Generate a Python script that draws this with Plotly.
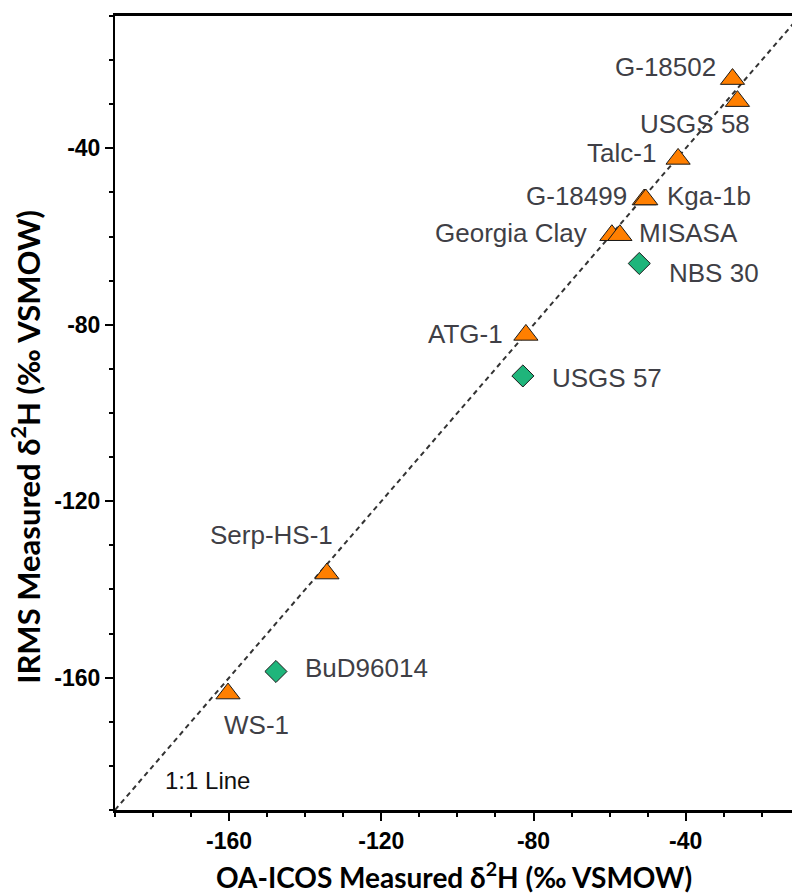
import plotly.graph_objects as go

# ---- data ----
ref_names = ["G-18502", "USGS 58", "Talc-1", "G-18499", "Kga-1b", "Georgia Clay",
             "MISASA", "ATG-1", "Serp-HS-1", "WS-1"]
ref_x = [-27.7, -26.4, -42.0, -50.9, -50.5, -59.4, -57.3, -82.0, -134.3, -160.3]
ref_y = [-24.3, -29.3, -42.4, -51.6, -51.6, -59.7, -59.7, -82.3, -136.4, -163.6]

oth_names = ["NBS 30", "USGS 57", "BuD96014"]
oth_x = [-52.2, -82.8, -147.7]
oth_y = [-66.1, -91.6, -158.6]

line_x = [-190, -10]
line_y = [-190, -10]

tick_vals = [-160, -120, -80, -40]
tick_text = ["-160", "-120", "-80", "-40"]

# label offsets (pixels) relative to each marker: style only
ref_offsets = [(-67, 12), (-42, -23), (-57, 6), (-68, 4), (63, 4), (-101, 2),
               (69, 2), (-60, 1), (-55, 39), (28, -31)]
oth_offsets = [(75, -10), (84, -2), (91, 3)]

ORANGE = "#FF7F00"
GREEN = "#1FB57B"
LABEL_COLOR = "#3f3f46"
LABEL_FONT = dict(family="Liberation Sans, Arial", size=26, color=LABEL_COLOR)

fig = go.Figure()

fig.add_trace(go.Scatter(
    x=line_x, y=line_y, mode="lines",
    line=dict(color="#333333", width=2, dash="5px,4px"),
    hoverinfo="skip", showlegend=False))

fig.add_trace(go.Scatter(
    x=oth_x, y=oth_y, mode="markers",
    marker=dict(symbol="diamond", size=17, color=GREEN,
                line=dict(color="#1a1a1a", width=1)),
    showlegend=False))

fig.add_trace(go.Scatter(
    x=ref_x, y=ref_y, mode="markers",
    marker=dict(symbol="triangle-up", size=21, color=ORANGE,
                line=dict(color="#1a1a1a", width=1)),
    showlegend=False))

annotations = []
for name, x, y, (dx, dy) in zip(ref_names, ref_x, ref_y, ref_offsets):
    annotations.append(dict(x=x, y=y, xref="x", yref="y", text=name,
                            showarrow=False, xshift=dx, yshift=dy,
                            xanchor="center", yanchor="middle", font=LABEL_FONT))
for name, x, y, (dx, dy) in zip(oth_names, oth_x, oth_y, oth_offsets):
    annotations.append(dict(x=x, y=y, xref="x", yref="y", text=name,
                            showarrow=False, xshift=dx, yshift=dy,
                            xanchor="center", yanchor="middle", font=LABEL_FONT))

annotations.append(dict(x=line_x[0], y=line_y[0], xref="x", yref="y",
                        text="1:1 Line", showarrow=False, xshift=92, yshift=30,
                        xanchor="center", yanchor="middle",
                        font=dict(family="Liberation Sans, Arial", size=24, color="#111111")))

annotations.append(dict(x=0.5, y=-0.082, xref="paper", yref="paper",
                        text="OA-ICOS Measured δ<sup>2</sup>H (‰ VSMOW)",
                        showarrow=False, xanchor="center", yanchor="middle",
                        font=dict(family="Lato, Open Sans", size=28, color="#000000",
                                  weight="bold")))
annotations.append(dict(x=-0.132, y=0.457, xref="paper", yref="paper",
                        text="IRMS Measured δ<sup>2</sup>H (‰ VSMOW)", textangle=-90,
                        showarrow=False, xanchor="center", yanchor="middle",
                        font=dict(family="Lato, Open Sans", size=31, color="#000000",
                                  weight="bold")))

axis_common = dict(
    tickvals=tick_vals, ticktext=tick_text,
    ticks="outside", ticklen=8, tickwidth=2, tickcolor="#000",
    showgrid=False, zeroline=False,
    tickfont=dict(family="Liberation Sans, Arial", size=23, color="#000",
                  weight="bold"),
    minor=dict(dtick=10, tick0=0, ticks="outside", ticklen=4, tickwidth=2,
               tickcolor="#000", showgrid=False),
)

fig.update_layout(
    width=792, height=894,
    margin=dict(l=115, r=0, t=16, b=84),
    paper_bgcolor="white", plot_bgcolor="white",
    xaxis=dict(range=[-190, -12.06], showline=True, linecolor="#000",
               linewidth=3, mirror=True, **axis_common),
    yaxis=dict(range=[-190, -10], showline=True, linecolor="#000",
               linewidth=2, mirror=False, **axis_common),
    annotations=annotations,
    showlegend=False,
)

fig.write_html("out.html")
